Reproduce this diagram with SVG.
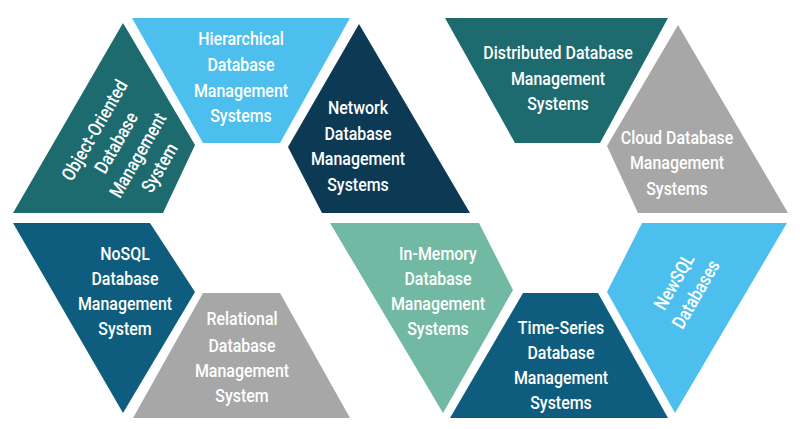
<svg xmlns="http://www.w3.org/2000/svg" width="800" height="429" viewBox="0 0 800 429">
<style>
.t{font-family:Roboto,"Liberation Sans",sans-serif;font-size:19px;font-weight:500;fill:#ffffff;text-anchor:middle}
.teal{fill:#1d6b6f}.sky{fill:#4dbfee}.navy{fill:#0c3a55}.blue{fill:#0f5d7e}.gray{fill:#a7a7a7}.mint{fill:#72b9a3}
</style>
<rect width="800" height="429" fill="#ffffff"/>
<g id="object-oriented">
<polygon class="teal" points="123,23 195,145 163,213 13,213"/>
<g transform="translate(127,149) rotate(-60) scale(0.84,1)">
<text class="t" x="0" y="-31">Object-Oriented</text>
<text class="t" x="0" y="-6">Database</text>
<text class="t" x="0" y="19">Management</text>
<text class="t" x="0" y="44">System</text>
</g>
</g>
<g id="hierarchical">
<polygon class="sky" points="132,18 350,18 280,143 203,143"/>
<g transform="translate(241,0) scale(0.84,1)">
<text class="t" x="0" y="45">Hierarchical</text>
<text class="t" x="0" y="71">Database</text>
<text class="t" x="0" y="97">Management</text>
<text class="t" x="0" y="122">Systems</text>
</g>
</g>
<g id="network">
<polygon class="navy" points="359,24 470,213 322,213 288,147"/>
<g transform="translate(358,0) scale(0.84,1)">
<text class="t" x="0" y="114">Network</text>
<text class="t" x="0" y="140">Database</text>
<text class="t" x="0" y="165">Management</text>
<text class="t" x="0" y="191">Systems</text>
</g>
</g>
<g id="distributed">
<polygon class="teal" points="445,18 668,18 600,143 515,143"/>
<g transform="translate(558,0) scale(0.84,1)">
<text class="t" x="0" y="59">Distributed Database</text>
<text class="t" x="0" y="85">Management</text>
<text class="t" x="0" y="110">Systems</text>
</g>
</g>
<g id="cloud">
<polygon class="gray" points="678,25 788,213 638,213 607,146"/>
<g transform="translate(677,0) scale(0.84,1)">
<text class="t" x="0" y="144">Cloud Database</text>
<text class="t" x="0" y="169">Management</text>
<text class="t" x="0" y="195">Systems</text>
</g>
</g>
<g id="nosql">
<polygon class="blue" points="13,223 150,223 195,292 123,413"/>
<g transform="translate(125,0) scale(0.84,1)">
<text class="t" x="0" y="260">NoSQL</text>
<text class="t" x="0" y="285">Database</text>
<text class="t" x="0" y="310">Management</text>
<text class="t" x="0" y="335">System</text>
</g>
</g>
<g id="relational">
<polygon class="gray" points="203,293 280,293 350,418 133,418"/>
<g transform="translate(242,0) scale(0.84,1)">
<text class="t" x="0" y="325">Relational</text>
<text class="t" x="0" y="352">Database</text>
<text class="t" x="0" y="377">Management</text>
<text class="t" x="0" y="402">System</text>
</g>
</g>
<g id="in-memory">
<polygon class="mint" points="330,223 479,223 513,290 443,413"/>
<g transform="translate(438,0) scale(0.84,1)">
<text class="t" x="0" y="260">In-Memory</text>
<text class="t" x="0" y="285">Database</text>
<text class="t" x="0" y="310">Management</text>
<text class="t" x="0" y="335">Systems</text>
</g>
</g>
<g id="time-series">
<polygon class="blue" points="523,293 598,293 668,418 450,418"/>
<g transform="translate(561,0) scale(0.84,1)">
<text class="t" x="0" y="334">Time-Series</text>
<text class="t" x="0" y="359">Database</text>
<text class="t" x="0" y="384">Management</text>
<text class="t" x="0" y="409">Systems</text>
</g>
</g>
<g id="newsql">
<polygon class="sky" points="642,223 787,223 675,413 607,292"/>
<g transform="translate(685,288) rotate(-60) scale(0.84,1)">
<text class="t" x="0" y="-6">NewSQL</text>
<text class="t" x="0" y="19">Databases</text>
</g>
</g>
<g id="connectors"/>
</svg>
